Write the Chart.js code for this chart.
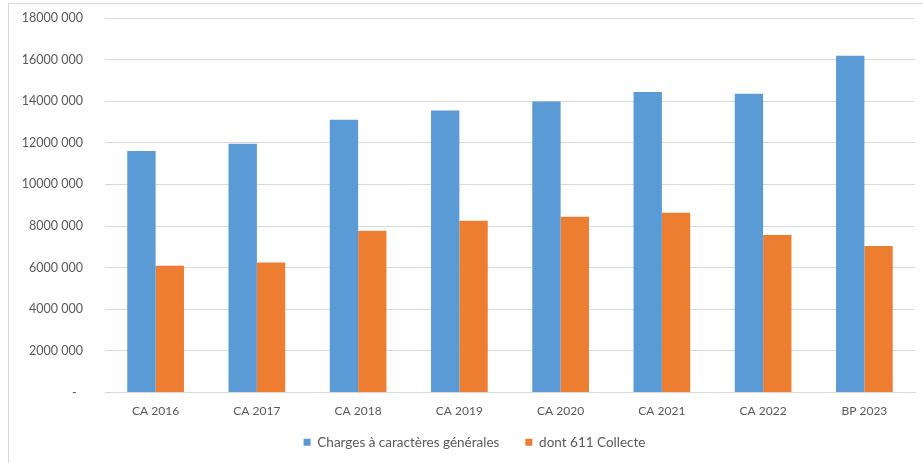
<!DOCTYPE html>
<html>
<head>
<meta charset="utf-8">
<script src="https://cdn.jsdelivr.net/npm/chart.js@4/dist/chart.umd.min.js"></script>
<style>
  html, body { margin: 0; padding: 0; background: #fff; }
  #wrap { position: absolute; left: 0; top: 0; width: 923px; height: 463px; }
  #frame {
    position: absolute; left: 8px; top: 3px; width: 920px; height: 465px;
    border-left: 1px solid #d9d9d9; border-top: 1px solid #d9d9d9;
    pointer-events: none;
  }
</style>
</head>
<body>
<div id="wrap"><canvas id="chart" width="923" height="463"></canvas></div>
<div id="frame"></div>
<script>
  var categories = ["CA 2016", "CA 2017", "CA 2018", "CA 2019", "CA 2020", "CA 2021", "CA 2022", "BP 2023"];
  var charges = [11610000, 11950000, 13110000, 13560000, 13990000, 14440000, 14360000, 16190000];
  var collecte = [6090000, 6250000, 7770000, 8260000, 8450000, 8640000, 7570000, 7040000];
  var yTicks = [0, 2000000, 4000000, 6000000, 8000000, 10000000, 12000000, 14000000, 16000000, 18000000];

  function fmt(v) {
    if (v === 0) return "-  ";
    var k = Math.round(v / 1000);
    return k + " 000";
  }

  var textColor = "#595959";
  var family = "Lato, 'Open Sans', sans-serif";

  // nudge the legend a bit right and up, like the Excel original
  var legendNudge = {
    id: "legendNudge",
    afterLayout: function (chart) {
      var l = chart.legend;
      l.left += 17; l.right += 17;
      l.top -= 9; l.bottom -= 9;
    }
  };

  new Chart(document.getElementById("chart").getContext("2d"), {
    type: "bar",
    data: {
      labels: categories,
      datasets: [
        { label: "Charges à caractères générales", data: charges, backgroundColor: "#5B9BD5" },
        { label: "dont 611 Collecte", data: collecte, backgroundColor: "#ED7D31" }
      ]
    },
    options: {
      responsive: false,
      animation: false,
      layout: { padding: { left: 0, right: 8, top: 18, bottom: -5 } },
      datasets: { bar: { categoryPercentage: 0.56, barPercentage: 1 } },
      scales: {
        x: {
          grid: { display: false },
          border: { color: "#d9d9d9" },
          ticks: { color: textColor, font: { family: family, size: 12 }, padding: 3 },
          afterFit: function (s) { s.height = 26; }
        },
        y: {
          min: 0, max: 18000000,
          afterBuildTicks: function (s) { s.ticks = yTicks.map(function (v) { return { value: v }; }); },
          afterFit: function (s) { s.width = 105; },
          // invisible tick marks push the labels left without adding top padding
          grid: { color: "#d9d9d9", drawTicks: true, tickLength: 18, tickColor: "rgba(0,0,0,0)" },
          border: { display: false },
          ticks: { color: textColor, font: { family: family, size: 12.5 }, padding: 4, callback: function (v) { return fmt(v); } }
        }
      },
      plugins: {
        legend: {
          position: "bottom",
          labels: { color: textColor, font: { family: family, size: 13.5 }, boxWidth: 7, boxHeight: 7, padding: 26 }
        },
        tooltip: { enabled: false }
      }
    },
    plugins: [legendNudge]
  });
</script>
</body>
</html>
